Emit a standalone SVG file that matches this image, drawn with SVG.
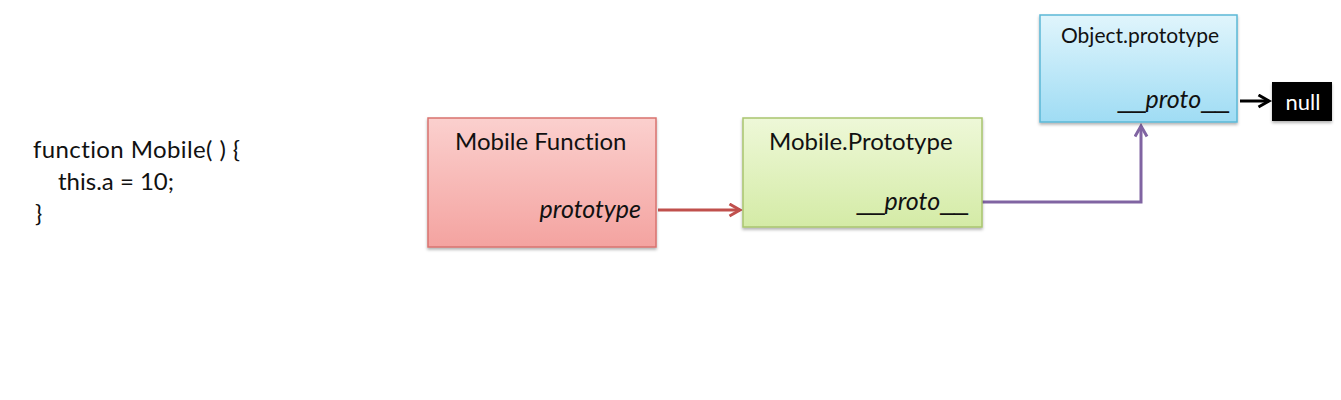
<svg xmlns="http://www.w3.org/2000/svg" width="1341" height="400" viewBox="0 0 1341 400">
<style>
text{font-family:Lato,"Liberation Sans",sans-serif;fill:#111;font-variant-ligatures:none}
.t{font-size:24px}
.i{font-style:italic;font-size:25px}
.u{font-family:"Liberation Sans",sans-serif;font-style:normal}
.code{font-size:24px}
.box{stroke-width:1.5}
</style>
<defs>
<linearGradient id="gr" x1="0" y1="0" x2="0" y2="1"><stop offset="0" stop-color="#fbd0ce"/><stop offset="1" stop-color="#f4a3a0"/></linearGradient>
<linearGradient id="gg" x1="0" y1="0" x2="0" y2="1"><stop offset="0" stop-color="#eef8d8"/><stop offset="1" stop-color="#d4eba6"/></linearGradient>
<linearGradient id="gb" x1="0" y1="0" x2="0" y2="1"><stop offset="0" stop-color="#e0f5fc"/><stop offset="1" stop-color="#9fdcf4"/></linearGradient>
<filter id="sh" x="-10%" y="-10%" width="120%" height="130%"><feDropShadow dx="0" dy="2" stdDeviation="1.5" flood-color="#000" flood-opacity="0.3"/></filter>
<marker id="ar" viewBox="0 0 10 10" refX="8" refY="5" markerWidth="5" markerHeight="5" orient="auto" markerUnits="strokeWidth"><path d="M1,1 L8,5 L1,9" fill="none" stroke="#c0504d" stroke-width="2"/></marker>
<marker id="ap" viewBox="0 0 10 10" refX="8" refY="5" markerWidth="5" markerHeight="5" orient="auto" markerUnits="strokeWidth"><path d="M1,1 L8,5 L1,9" fill="none" stroke="#8064a2" stroke-width="2"/></marker>
<marker id="ak" viewBox="0 0 10 10" refX="8" refY="5" markerWidth="5" markerHeight="5" orient="auto" markerUnits="strokeWidth"><path d="M1,1 L8,5 L1,9" fill="none" stroke="#000" stroke-width="2"/></marker>
</defs>
<rect width="1341" height="400" fill="#fff"/>
<g id="code">
<text class="code" x="33" y="158" textLength="207">function Mobile( ) {</text>
<text class="code" x="58" y="190">this.a  = 10;</text>
<text class="code" x="35" y="222">}</text>
</g>
<g id="connectors" fill="none" stroke-width="3">
<path d="M658,210 H740" stroke="#c0504d" marker-end="url(#ar)"/>
<path d="M982,202 H1141 V126" stroke="#8064a2" marker-end="url(#ap)"/>
<path d="M1240,101 H1269" stroke="#000" marker-end="url(#ak)"/>
</g>
<g id="mobile-function">
<rect class="box" x="428" y="118" width="228" height="129" fill="url(#gr)" stroke="#d9736f" filter="url(#sh)"/>
<text class="t" x="455" y="150">Mobile Function</text>
<text class="i" x="641" y="218" text-anchor="end">prototype</text>
</g>
<g id="mobile-prototype">
<rect class="box" x="743" y="118" width="239" height="109" fill="url(#gg)" stroke="#a9c56f" filter="url(#sh)"/>
<text class="t" x="769" y="150">Mobile.Prototype</text>
<text class="i" x="968" y="210" text-anchor="end"><tspan class="u">__</tspan>proto<tspan class="u">__</tspan></text>
</g>
<g id="object-prototype">
<rect class="box" x="1040" y="15" width="197" height="107" fill="url(#gb)" stroke="#5bb8d6" filter="url(#sh)"/>
<text x="1061" y="43" font-size="21">Object.prototype</text>
<text class="i" x="1229" y="108" text-anchor="end"><tspan class="u">__</tspan>proto<tspan class="u">__</tspan></text>
</g>
<g id="null">
<rect x="1272" y="82" width="60" height="39" fill="#000" filter="url(#sh)"/>
<text x="1303" y="110" font-size="22" text-anchor="middle" style="fill:#fff">null</text>
</g>
</svg>
